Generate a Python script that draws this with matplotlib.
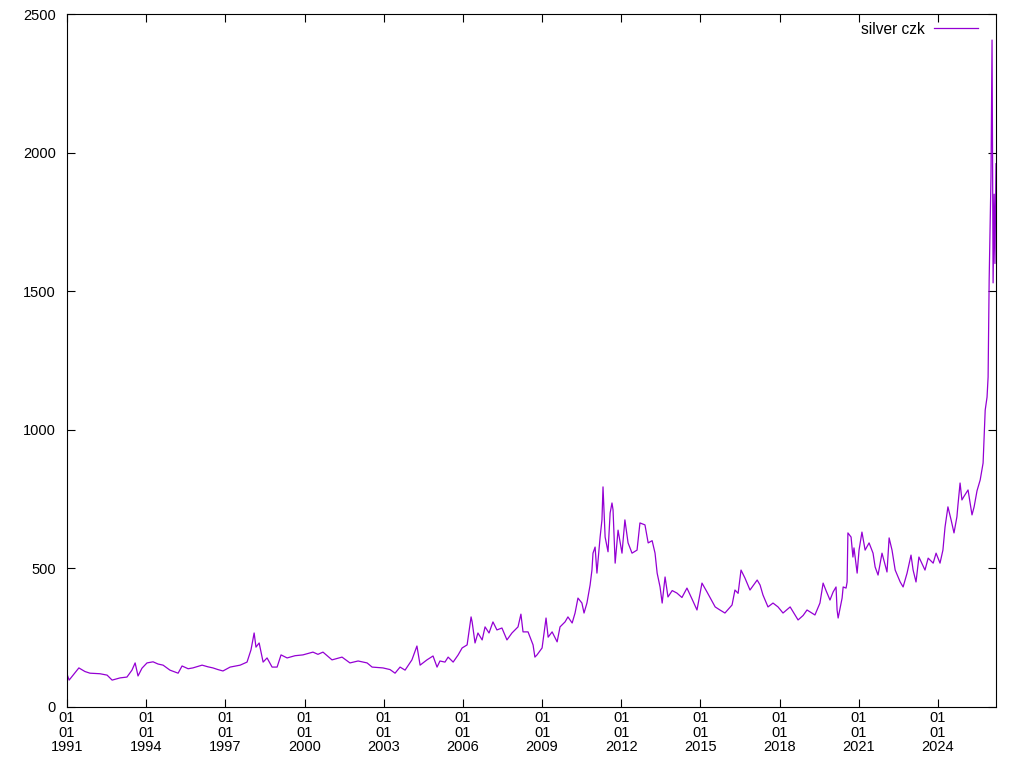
import datetime as dt

import matplotlib
matplotlib.use('Agg')
import matplotlib.pyplot as plt
import matplotlib.dates as mdates
from matplotlib.ticker import FixedLocator

plt.rcParams['font.family'] = ['Liberation Sans', 'DejaVu Sans']

# decimal years and price of silver in CZK
years = [
    1991.00, 1991.08, 1991.19, 1991.45, 1991.68, 1991.87, 1992.25, 1992.52, 1992.71, 1993.01,
    1993.27, 1993.46, 1993.58, 1993.69, 1993.84, 1994.03, 1994.26, 1994.45, 1994.64, 1994.90,
    1995.21, 1995.36, 1995.59, 1995.77, 1996.12, 1996.34, 1996.53, 1996.72, 1996.91, 1997.18,
    1997.56, 1997.82, 1997.97, 1998.09, 1998.16, 1998.28, 1998.43, 1998.58, 1998.77, 1998.96,
    1999.11, 1999.34, 1999.64, 1999.94, 2000.32, 2000.51, 2000.70, 2001.04, 2001.42, 2001.72,
    2002.03, 2002.37, 2002.56, 2002.97, 2003.24, 2003.43, 2003.62, 2003.81, 2004.07, 2004.26,
    2004.38, 2004.64, 2004.87, 2005.02,
    2005.13, 2005.32, 2005.44, 2005.63, 2005.82, 2005.97, 2006.16, 2006.31, 2006.35, 2006.46,
    2006.57, 2006.73, 2006.84, 2006.99, 2007.14, 2007.29, 2007.48, 2007.67, 2007.86, 2008.09,
    2008.20, 2008.28, 2008.47, 2008.66, 2008.73, 2008.81, 2009.00, 2009.15, 2009.23, 2009.38,
    2009.57, 2009.68, 2009.87, 2009.98, 2010.14, 2010.25, 2010.36, 2010.51, 2010.59, 2010.70,
    2010.82,
    2010.89, 2010.93, 2011.01, 2011.08, 2011.20, 2011.27, 2011.31, 2011.39, 2011.50, 2011.58,
    2011.65, 2011.69, 2011.77, 2011.88, 2012.03, 2012.14, 2012.26, 2012.41, 2012.60, 2012.71,
    2012.90, 2013.02, 2013.17, 2013.28, 2013.36, 2013.47, 2013.55, 2013.66, 2013.77, 2013.93,
    2014.11, 2014.30, 2014.49, 2014.68, 2014.87, 2015.06, 2015.25, 2015.48, 2015.56, 2015.74,
    2015.93, 2016.20, 2016.31, 2016.43, 2016.54, 2016.69, 2016.88, 2017.15, 2017.26, 2017.37,
    2017.56, 2017.75, 2017.94, 2018.13, 2018.40, 2018.70, 2018.89, 2019.04, 2019.34, 2019.53,
    2019.65, 2019.76,
    2019.91, 2020.03, 2020.14, 2020.18, 2020.22, 2020.37, 2020.41, 2020.52, 2020.56, 2020.59,
    2020.71, 2020.78, 2020.82, 2020.94, 2021.01, 2021.12, 2021.24, 2021.39, 2021.54, 2021.62,
    2021.73, 2021.88, 2022.07, 2022.15, 2022.26, 2022.38, 2022.57, 2022.68, 2022.83, 2022.98,
    2023.06, 2023.17, 2023.28, 2023.51, 2023.63, 2023.82, 2023.93, 2024.08, 2024.19, 2024.27,
    2024.38, 2024.50, 2024.61, 2024.72, 2024.76, 2024.84, 2024.91, 2024.99, 2025.14, 2025.29,
    2025.37, 2025.48, 2025.60,
    2025.71, 2025.79, 2025.86, 2025.90, 2025.94, 2026.01, 2026.05, 2026.09, 2026.13, 2026.16,
    2026.20,
]
prices = [
    119, 97, 110, 141, 128, 122, 120, 115, 97, 105,
    108, 133, 159, 112, 140, 159, 163, 155, 151, 133,
    122, 148, 138, 141, 151, 145, 141, 135, 130, 144,
    151, 162, 206, 267, 216, 231, 162, 177, 144, 144,
    188, 177, 185, 188, 198, 190, 198, 170, 180, 159,
    166, 159, 144, 141, 135, 122, 144, 133, 170, 220,
    151, 170, 184, 144,
    166, 162, 180, 162, 188, 213, 224, 325, 307, 231,
    267, 242, 289, 267, 307, 278, 285, 242, 267, 289,
    335, 271, 271, 224, 180, 188, 213, 321, 252, 271,
    235, 289, 307, 325, 303, 339, 393, 375, 339, 375,
    440,
    494, 555, 577, 483, 613, 675, 794, 613, 560, 700,
    736, 711, 519, 638, 555, 675, 592, 555, 566, 664,
    657, 592, 600, 555, 483, 433, 375, 469, 397, 420,
    411, 395, 429, 390, 350, 447, 415, 375, 361, 350,
    339, 368, 422, 410, 494, 465, 422, 458, 440, 404,
    361, 375, 361, 339, 361, 314, 330, 350, 332, 375,
    447, 420,
    386, 415, 433, 350, 321, 393, 433, 429, 451, 628,
    613, 541, 574, 483, 566, 631, 566, 592, 555, 505,
    476, 555, 487, 610, 566, 494, 451, 433, 483, 548,
    494, 451, 541, 494, 537, 519, 555, 519, 566, 649,
    722, 675, 628, 686, 729, 808, 747, 760, 783, 693,
    722, 780, 819,
    880, 1071, 1118, 1190, 1540, 1912, 2406, 1530, 1850, 1600,
    1960,
]
tick_years = list(range(1991, 2025, 3))


def to_date(y):
    base = dt.datetime(int(y), 1, 1)
    return base + dt.timedelta(days=(y - int(y)) * 365.25)


def main():
    dates = [to_date(y) for y in years]

    fig = plt.figure(figsize=(10.24, 7.68), dpi=100)
    ax = fig.add_axes([67 / 1024, 1 - 707 / 768, 929 / 1024, 693 / 768])

    ax.plot(dates, prices, color='#9400D3', lw=0.9, label='silver czk')

    ax.set_xlim(dates[0], dates[-1])
    ax.set_ylim(0, 2500)
    ax.set_yticks(range(0, 2501, 500))
    ax.xaxis.set_major_locator(FixedLocator(
        [mdates.date2num(dt.datetime(y, 1, 1)) for y in tick_years]))
    ax.xaxis.set_major_formatter(mdates.DateFormatter('%m\n%d\n%Y'))

    ax.tick_params(direction='in', top=True, right=True, length=6, width=0.8,
                   labelsize=10.5)
    ax.tick_params(axis='y', pad=8)
    ax.tick_params(axis='x', pad=3)
    for lbl in ax.get_xticklabels():
        lbl.set_linespacing(1.05)
    for s in ax.spines.values():
        s.set_linewidth(0.8)

    # legend: text left of the sample line, top right corner
    ax.legend(loc='center right', bbox_to_anchor=((978 - 67) / 929, (707 - 29) / 693),
              frameon=False, markerfirst=False, fontsize=11.2, borderaxespad=0,
              borderpad=0, handlelength=2.8, handletextpad=0.6)

    fig.savefig('out.png', dpi=100)


if __name__ == '__main__':
    main()
